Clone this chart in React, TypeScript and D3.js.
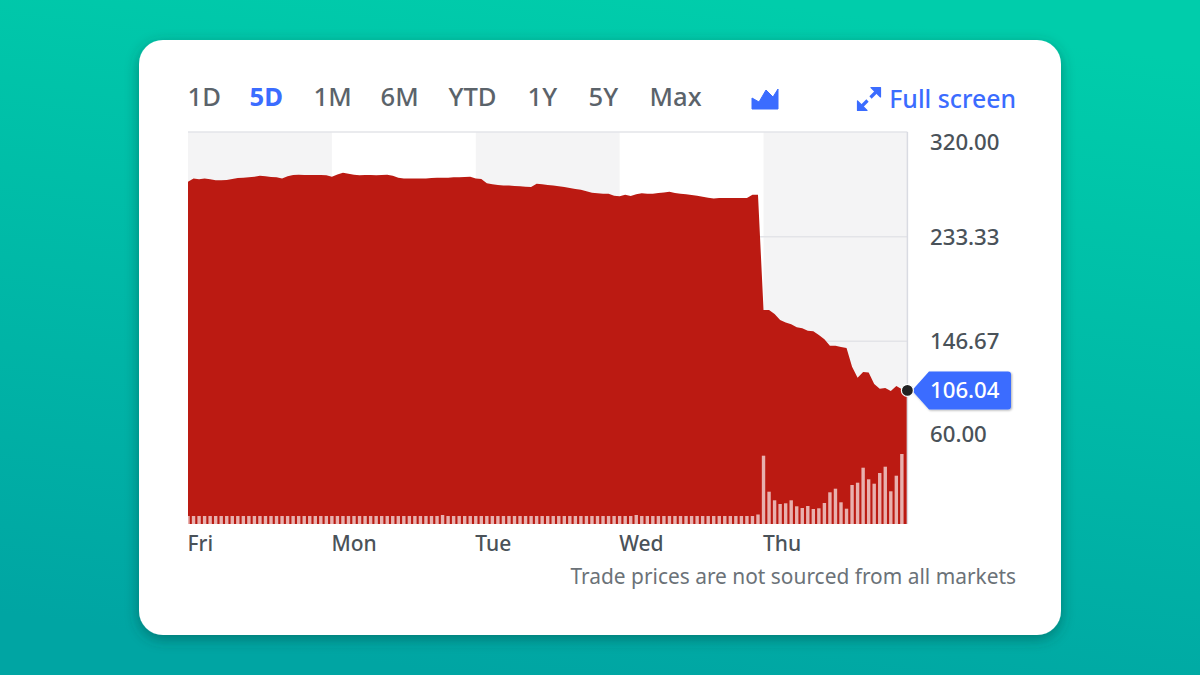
import React from 'react';
import * as d3 from 'd3';

const ranges = ['1D', '5D', '1M', '6M', 'YTD', '1Y', '5Y', 'Max'];
const rangeX = [187.5, 249.5, 313.5, 380.5, 448.5, 527.5, 588.5, 649.5];
const days = ['Fri', 'Mon', 'Tue', 'Wed', 'Thu'];
const priceTicks = [320, 233.33, 146.67, 60];
const lastPrice = 106.04;

// 15 minute closes, 26 per session plus the last print
const prices = [
  278.9, 281.4, 280.8, 281.6, 280.8, 280.0, 280.0, 280.2, 281.1, 281.9, 282.2, 282.5, 283.0,
  283.8, 283.3, 282.7, 282.5, 281.6, 283.3, 284.4, 284.7, 284.4, 284.4, 284.4, 284.4, 284.1,
  283.0, 284.9, 286.3, 285.5, 284.7, 284.1, 284.4, 284.4, 284.1, 284.4, 284.7, 283.8, 282.2,
  281.6, 281.4, 281.6, 281.4, 281.6, 281.9, 282.2, 282.2, 282.2, 282.5, 282.5, 282.7, 283.0,
  281.4, 281.1, 277.5, 276.7, 276.1, 275.8, 275.6, 275.3, 275.0, 274.7, 274.5, 277.2, 276.7,
  276.1, 275.6, 275.0, 274.5, 273.6, 272.8, 272.2, 270.9, 269.7, 269.2, 268.9, 268.9, 267.2,
  266.7, 268.1, 267.0, 268.4, 269.2, 268.9, 268.9, 269.5, 270.0, 270.6, 269.5, 268.9, 268.4,
  267.8, 267.2, 266.4, 265.6, 265.0, 265.3, 265.3, 265.3, 265.3, 265.3, 265.3, 268.1, 268.1,
  172.6, 172.6, 169.3, 164.4, 162.2, 160.8, 158.3, 157.5, 155.5, 155.0, 151.9, 148.4, 143.1,
  143.1, 142.0, 141.2, 125.7, 116.6, 121.3, 120.8, 111.4, 107.5, 108.1, 105.6, 109.7, 106.9,
  lastPrice,
];

// volume per 15 minute bar, first four sessions are flat and thin
const quietVolume = [
  0.8, 0.8, 0.8, 0.8, 0.8, 0.8, 0.8, 0.8, 0.8, 0.8, 0.8, 0.8, 0.8,
  0.8, 0.8, 0.8, 0.8, 0.8, 0.8, 0.8, 0.8, 0.8, 0.8, 0.8, 0.8, 0.8,
  0.8, 0.8, 0.8, 0.8, 0.8, 0.8, 0.8, 0.8, 0.8, 0.8, 0.8, 0.8, 0.8,
  0.8, 0.8, 0.8, 0.8, 0.8, 0.8, 0.8, 0.9, 0.8, 0.8, 0.8, 0.8, 0.8,
  0.8, 0.8, 0.8, 0.8, 0.8, 0.8, 0.8, 0.8, 0.8, 0.8, 0.8, 0.8, 0.8,
  0.8, 0.8, 0.8, 0.8, 0.8, 0.8, 0.8, 0.8, 0.8, 0.8, 0.8, 0.8, 0.8,
  0.8, 0.8, 0.8, 0.9, 0.8, 0.8, 0.8, 0.8, 0.8, 0.8, 0.8, 0.8, 0.8,
  0.8, 0.8, 0.8, 0.8, 0.8, 0.8, 0.8, 0.8, 0.8, 0.8, 0.8, 0.8, 0.95,
];
const thuVolume = [
  6.83, 3.23, 2.37, 2.0, 2.07, 2.37, 1.77, 1.6, 1.8, 1.5, 1.57, 2.1, 3.17,
  3.53, 2.17, 1.53, 3.9, 4.13, 5.63, 4.47, 4.03, 5.1, 5.73, 3.27, 4.83, 7.0,
];
const volumes = [...quietVolume, ...thuVolume];

const W = 1200;
const H = 675;
const left = 188;
const right = 907.4;
const top = 132;
const bottom = 524;
const session = 26;

const x = d3.scaleLinear().domain([0, prices.length - 1]).range([left, right]);
const y = d3.scaleLinear().domain([60, 320]).range([446, top]);
const yVol = d3.scaleLinear().domain([0, 10]).range([bottom, bottom - 100]);

const areaPath = d3
  .area<number>()
  .x((_d, i) => x(i))
  .y0(bottom)
  .y1(d => y(d))(prices) as string;

const labelY = (v: number) => Math.max(142, Math.min(434, y(v)));

const font = '"Noto Sans", sans-serif';
const blue = '#3b6cff';

const App = () => {
  return (
    <svg
      width={W}
      height={H}
      viewBox={`0 0 ${W} ${H}`}
      style={{ position: 'fixed', left: 0, top: 0, fontFamily: font }}
    >
      <defs>
        <linearGradient id="bg" x1="0.62" y1="0" x2="0.38" y2="1">
          <stop offset="0" stopColor="#00cdab" />
          <stop offset="1" stopColor="#00a5a3" />
        </linearGradient>
        <filter id="cardShadow" x="-10%" y="-10%" width="120%" height="120%">
          <feDropShadow dx="0" dy="4" stdDeviation="7" floodColor="#00403c" floodOpacity="0.45" />
        </filter>
        <filter id="tagShadow" x="-10%" y="-10%" width="125%" height="130%">
          <feDropShadow dx="1" dy="1" stdDeviation="1" floodColor="#000" floodOpacity="0.3" />
        </filter>
      </defs>

      <rect width={W} height={H} fill="url(#bg)" />
      <rect x={139} y={40} width={922} height={595} rx={24} fill="#fff" filter="url(#cardShadow)" />

      {/* range selector */}
      {ranges.map((r, i) => (
        <text
          key={r}
          x={rangeX[i]}
          y={106}
          fontSize={25.6}
          fontWeight={r === '5D' ? 700 : 500}
          fill={r === '5D' ? blue : '#5b636a'}
        >
          {r}
        </text>
      ))}

      <path
        d="M752 98 L759 102 L766 90 L773 97 L778 89 L778 109 L752 109 Z"
        fill={blue}
        stroke={blue}
        strokeWidth={1}
        strokeLinejoin="round"
      />
      <g fill={blue} stroke={blue} strokeLinejoin="round">
        <path d="M871 87.5 L880.5 87.5 L880.5 97 Z" strokeWidth={1.2} />
        <path d="M857.5 101 L857.5 110.5 L867 110.5 Z" strokeWidth={1.2} />
        <path d="M876 92 L870.5 97.5" strokeWidth={3.2} />
        <path d="M862 106 L867.5 100.5" strokeWidth={3.2} />
      </g>
      <text x={1016} y={108} textAnchor="end" fontSize={24.8} fontWeight={500} fill={blue}>
        Full screen
      </text>

      {/* alternating session bands */}
      {days.map((d, i) =>
        i % 2 === 0 ? (
          <rect
            key={d}
            x={x(i * session)}
            y={top}
            width={x(Math.min((i + 1) * session, prices.length - 1)) - x(i * session)}
            height={bottom - top}
            fill="#f4f4f5"
          />
        ) : null
      )}

      {priceTicks.map(t => (
        <line key={t} x1={left} x2={right} y1={y(t)} y2={y(t)} stroke="#e3e4e8" strokeWidth={1.5} />
      ))}

      <path d={areaPath} fill="#bb1a12" />

      {volumes.map((v, i) => (
        <rect
          key={i}
          x={x(i) - 1.7}
          y={yVol(v)}
          width={3.4}
          height={bottom - yVol(v)}
          fill="#fff"
          fillOpacity={0.66}
        />
      ))}

      <line x1={right} x2={right} y1={top} y2={bottom} stroke="#d9dbe2" strokeWidth={1.5} />

      {/* price axis */}
      {priceTicks.map(t => (
        <text
          key={t}
          x={930}
          y={labelY(t)}
          dy="0.36em"
          fontSize={22.2}
          fontWeight={500}
          fill="#4a5259"
        >
          {t.toFixed(2)}
        </text>
      ))}

      {/* last price tag */}
      <path
        d={`M912 ${y(lastPrice)} L929 371.5 L1008 371.5 Q1011 371.5 1011 374.5 L1011 406.5 Q1011 409.5 1008 409.5 L929 409.5 Z`}
        fill={blue}
        filter="url(#tagShadow)"
      />
      <text
        x={930}
        y={y(lastPrice)}
        dy="0.36em"
        fontSize={22.2}
        fontWeight={500}
        fill="#fff"
      >
        {lastPrice.toFixed(2)}
      </text>
      <circle cx={right} cy={y(lastPrice)} r={6} fill="#222" stroke="#fff" strokeWidth={1.2} />

      {/* day axis */}
      {days.map((d, i) => (
        <text key={d} x={x(i * session) - 0.5} y={551} fontSize={21} fontWeight={500} fill="#4a5259">
          {d}
        </text>
      ))}

      <text x={1016} y={584} textAnchor="end" fontSize={20.9} fill="#6b7278">
        Trade prices are not sourced from all markets
      </text>
    </svg>
  );
};

export default App;
